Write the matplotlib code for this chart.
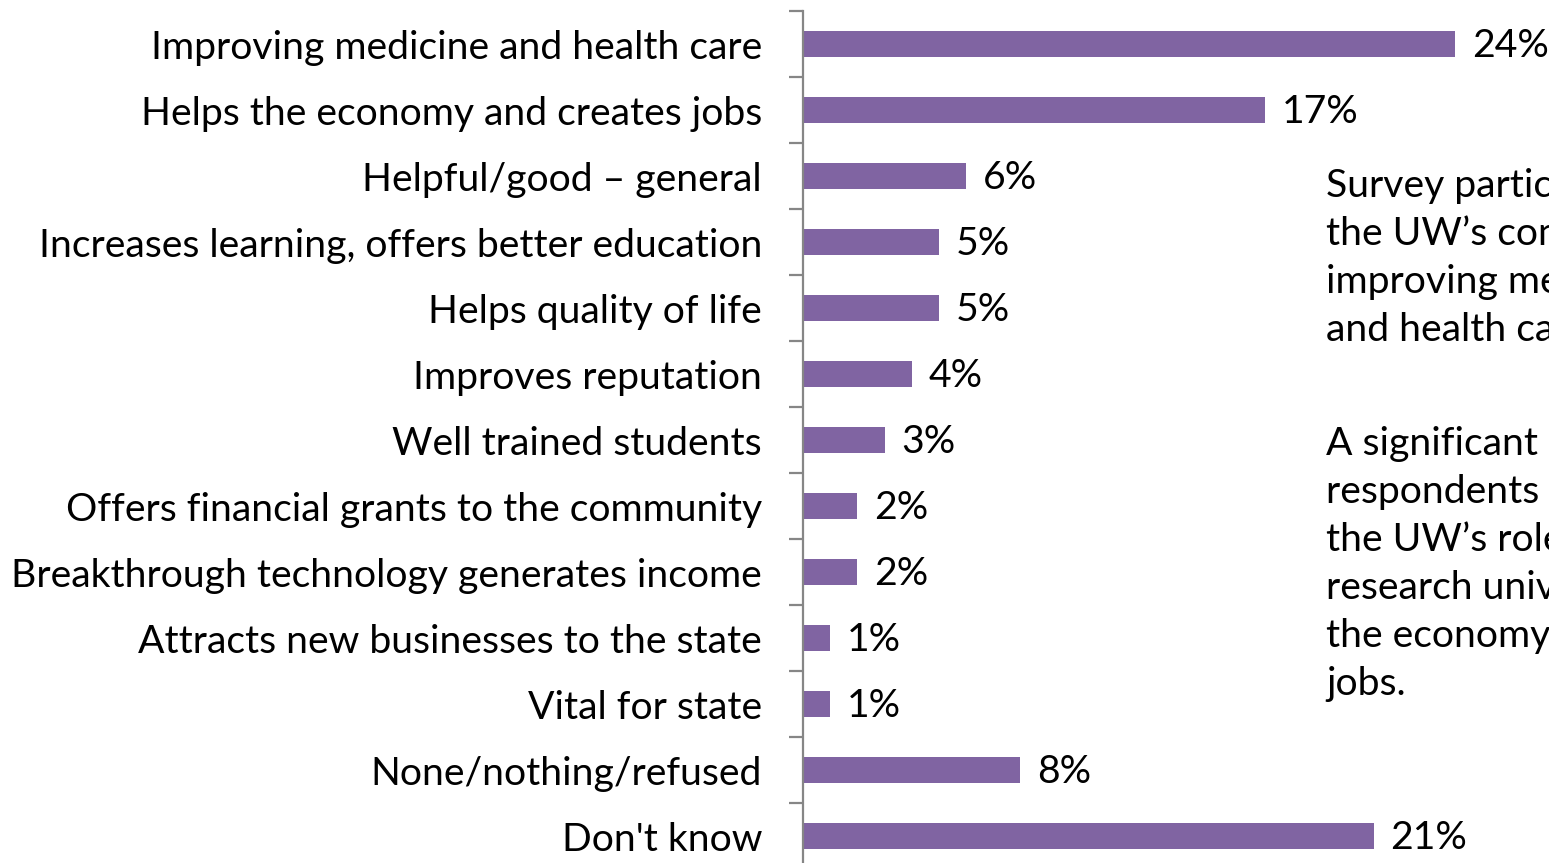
import matplotlib
matplotlib.use("Agg")
import matplotlib.pyplot as plt
import numpy as np

categories = [
    "Improving medicine and health care",
    "Helps the economy and creates jobs",
    "Helpful/good \u2013 general",
    "Increases learning, offers better education",
    "Helps quality of life",
    "Improves reputation",
    "Well trained students",
    "Offers financial grants to the community",
    "Breakthrough technology generates income",
    "Attracts new businesses to the state",
    "Vital for state",
    "None/nothing/refused",
    "Don't know",
]
values = [24, 17, 6, 5, 5, 4, 3, 2, 2, 1, 1, 8, 21]
value_labels = [f"{v}%" for v in values]

note_lines_1 = [
    "Survey participants valued",
    "the UW\u2019s contributions to",
    "improving medicine",
    "and health care.",
]
note_lines_2 = [
    "A significant proportion of",
    "respondents also valued",
    "the UW\u2019s role as a",
    "research university in helping",
    "the economy and creating",
    "jobs.",
]

W, H = 1549, 863
DPI = 100
FONT = "Lato"
BAR = "#8064A2"
AX = "#868686"

fig = plt.figure(figsize=(W / DPI, H / DPI), dpi=DPI)
renderer = fig.canvas.get_renderer()

# fit font size so longest label spans ~753 px
probe = fig.text(0, 0, categories[8], fontsize=20, family=FONT)
wpx = probe.get_window_extent(renderer).width
probe.remove()
fs = 20 * 753 / wpx

ax_left = 803
px_per_unit = 27.17
ax = fig.add_axes([ax_left / W, 1 - 869 / H, (W - ax_left) / W, 858 / H])
y = np.arange(len(categories))
ax.barh(y, values, height=0.38, color=BAR)
ax.set_ylim(len(categories) - 0.5, -0.5)
ax.set_xlim(0, (W - ax_left) / px_per_unit)

for s in ["top", "right", "bottom"]:
    ax.spines[s].set_visible(False)
ax.spines["left"].set_color(AX)
ax.spines["left"].set_linewidth(1.6)
ax.set_xticks([])

ax.set_yticks(y)
ax.set_yticklabels(categories, fontsize=fs, family=FONT, color="#000000")
ax.tick_params(axis="y", which="major", length=0, pad=41 * 72 / DPI)
ax.set_yticks(np.arange(-0.5, len(categories) + 0.5, 1), minor=True)
ax.tick_params(axis="y", which="minor", length=14 * 72 / DPI, width=1.6, color=AX)

for i, (v, lab) in enumerate(zip(values, value_labels)):
    ax.text(v + 17 / px_per_unit, i + 0.03, lab, va="center", ha="left",
            fontsize=fs, family=FONT, color="#000000")

x_note = 1326 / W
baselines1 = [197, 245, 293, 341]
baselines2 = [455, 503, 551, 599, 647, 695]
for line, b in zip(note_lines_1 + note_lines_2, baselines1 + baselines2):
    fig.text(x_note, 1 - b / H, line, va="baseline", ha="left",
             fontsize=fs, family=FONT, color="#000000")

fig.savefig("out.png", dpi=DPI)
